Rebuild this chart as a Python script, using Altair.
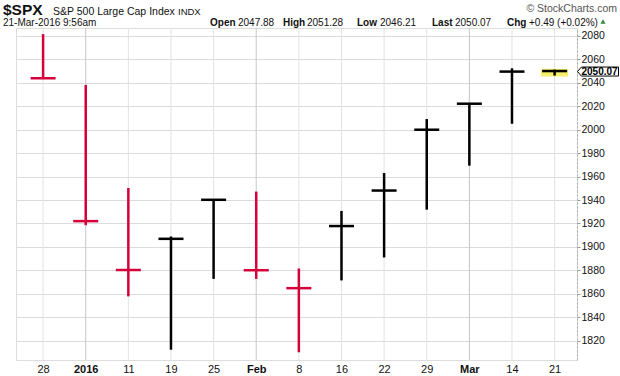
import altair as alt
import pandas as pd

# ---- data (weekly bars) ----
week_labels = ["28", "2016", "11", "19", "25", "Feb", "8", "16", "22", "29", "Mar", "14", "21"]
highs  = [2081.6, 2038.2, 1950.3, 1908.9, 1940.2, 1947.2, 1881.6, 1930.7, 1963.0, 2009.1, 2022.5, 2052.4, 2051.28]
lows   = [2043.6, 1918.5, 1857.8, 1812.3, 1872.7, 1872.7, 1810.1, 1871.4, 1891.0, 1931.8, 1969.3, 2005.1, 2046.21]
closes = [2043.9, 1922.0, 1880.3, 1906.9, 1940.2, 1880.1, 1864.8, 1917.8, 1948.1, 2000.0, 2022.2, 2049.6, 2050.07]
prev_week_close = 2061.0
month_labels = ["2016", "Feb", "Mar"]
y_ticks = list(range(1820, 2081, 20))

title_sym = "$SPX"
title_name = "S&P 500 Large Cap Index"
title_exch = "INDX"
credit = "\u00a9 StockCharts.com"
stamp = "21-Mar-2016 9:56am"
quote_parts = [("Open", "2047.88"), ("High", "2051.28"), ("Low", "2046.21"), ("Last", "2050.07"), ("Chg", "+0.49 (+0.02%)")]

rows = []
prev = prev_week_close
for i, (lab, h, l, c) in enumerate(zip(week_labels, highs, lows, closes)):
    rows.append(dict(idx=i, label=lab, high=h, low=l, close=c,
                     dir="down" if c < prev else "up", month=lab in month_labels))
    prev = c
df = pd.DataFrame(rows)
last_idx = len(df) - 1

W, H = 561, 332
FONT = "Liberation Sans"
xs = alt.Scale(domain=[-0.5184, 12.4079], nice=False, zero=False)
ys = alt.Scale(domain=[1803.5, 2086.8], nice=False, zero=False)

label_expr = "[" + ",".join(f"'{l}'" for l in week_labels) + "][datum.value]"
bold_idx = "[" + ",".join(str(week_labels.index(m)) for m in month_labels) + "]"

x_axis = alt.Axis(values=list(range(len(week_labels))), labelExpr=label_expr,
                  grid=False, ticks=False, domain=False, labelPadding=3,
                  labelFontSize=11, labelFont=FONT, labelColor="#111",
                  labelFontWeight={"condition": {"test": f"indexof({bold_idx}, datum.value) >= 0",
                                                 "value": "bold"}, "value": "normal"})
y_axis = alt.Axis(orient="right", values=y_ticks, format="d", labelOverlap=False,
                  grid=True, gridColor="#dcdcdc",
                  domain=True, domainColor="#aaaaaa", domainDash=[2, 2],
                  ticks=True, tickSize=3, tickColor="#999999", labelPadding=1,
                  labelFontSize=10.5, labelFont=FONT, labelColor="#111")


def X(field="idx:Q"):
    return alt.X(field, scale=xs, axis=x_axis, title=None)


def Y(field):
    return alt.Y(field, scale=ys, axis=y_axis, title=None)


base = alt.Chart(df)

vgrid = base.mark_rule(strokeWidth=1).encode(
    x=X(), y=alt.value(0), y2=alt.value(H),
    color=alt.condition("datum.month", alt.value("#c6c6c6"), alt.value("#e2e2e2")),
)

highlight = base.transform_filter(f"datum.idx == {last_idx}").mark_bar(
    width=25, color="#f6f06a", stroke="#f6f06a", strokeWidth=2
).encode(x=X(), y=Y("low:Q"), y2="high:Q")

color = alt.Color("dir:N", scale=alt.Scale(domain=["down", "up"], range=["#d5003b", "#000000"]), legend=None)

sticks = base.mark_rule(strokeWidth=2.5).encode(
    x=X(), y=Y("low:Q"), y2="high:Q", color=color,
)

ticks = base.mark_tick(orient="horizontal", size=25, thickness=2.5, opacity=1).encode(
    x=X(), y=Y("close:Q"), color=color
)

box_path = "M-1,0 L-0.81,-0.22 L1,-0.22 L1,0.22 L-0.81,0.22 Z"
price_box = base.transform_filter(f"datum.idx == {last_idx}").mark_point(
    shape=box_path, size=41 * 41, filled=True, fill="white", stroke="black",
    strokeWidth=1, opacity=1, yOffset=0.5
).encode(x=alt.value(W + 21), y=Y("close:Q"))

price_text = base.transform_filter(f"datum.idx == {last_idx}").mark_text(
    align="left", baseline="middle", font=FONT, fontSize=10, fontWeight="bold",
    color="black", yOffset=1
).encode(x=alt.value(W + 4.5), y=Y("close:Q"), text=alt.Text("close:Q", format=".2f"))

one = pd.DataFrame({"a": [0]})
L, T = 16, 28


def txt(s, x, y, size=10, weight="normal", align="left", color="#111"):
    return alt.Chart(one).mark_text(text=s, align=align, baseline="alphabetic", font=FONT,
                                    fontSize=size, fontWeight=weight, color=color).encode(
        x=alt.value(x - L), y=alt.value(y - T))


header = [
    txt(title_sym, 3, 15, size=15.5, weight="bold"),
    txt(title_name, 53, 14.5, size=10.5),
    txt(title_exch, 178, 14.5, size=9.5),
    txt(credit, 617, 12, size=10.5, align="right", color="#555"),
    txt(stamp, 3, 25.5, size=10),
]
qx = [(210, 238), (283, 307), (357, 380), (432, 455), (507, 529)]
for (lab, val), (x1, x2) in zip(quote_parts, qx):
    header.append(txt(lab, x1, 25.5, weight="bold"))
    header.append(txt(val, x2, 25.5))

tri = alt.Chart(one).mark_point(shape="triangle-up", size=26, filled=True, color="#2e8b3a", opacity=1).encode(
    x=alt.value(603 - L), y=alt.value(21.5 - T))

chart = alt.layer(vgrid, highlight, sticks, ticks, price_box, price_text, *header, tri).properties(
    width=W, height=H, autosize="none",
    padding={"left": L, "top": T, "right": 620 - L - W, "bottom": 376 - T - H},
).configure_view(stroke="#b5b5b5", strokeWidth=1).configure(background="white")

chart.save("out.html", embed_options={"renderer": "svg", "actions": False})
